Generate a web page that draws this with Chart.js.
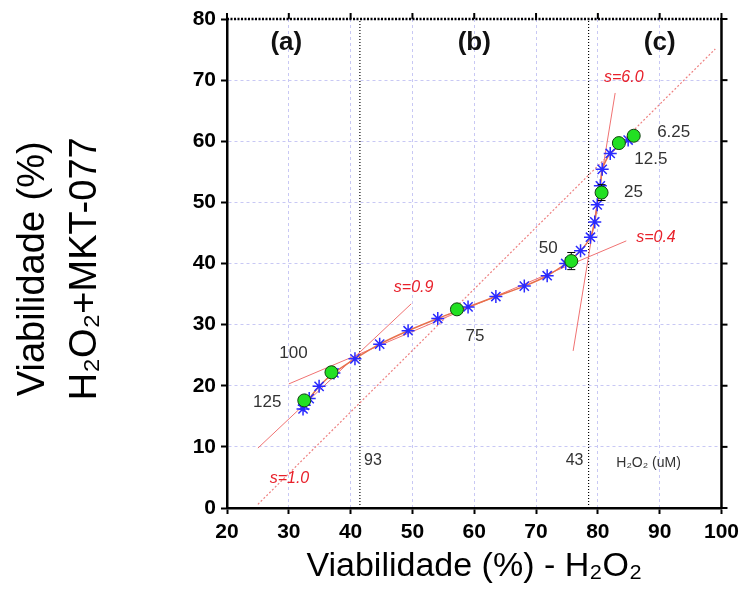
<!DOCTYPE html>
<html>
<head>
<meta charset="utf-8">
<script src="https://cdn.jsdelivr.net/npm/chart.js@4.4.0/dist/chart.umd.min.js"></script>
<style>
  html, body { margin: 0; padding: 0; background: #fff; }
</style>
</head>
<body>
<canvas id="myChart" width="745" height="609"></canvas>
<script>
const ctx = document.getElementById('myChart');
const FONT = "'Liberation Sans', Arial, sans-serif";

// viabilidade H2O2 (x) vs H2O2 + MKT-077 (y)
const starX = [32.3, 32.5, 33.3, 34.9, 37.3, 40.7, 44.7, 49.3, 54.1, 59.0, 63.5, 68.1, 71.8, 74.8, 77.2, 78.8, 79.5, 79.9, 80.4, 80.7, 82.0, 84.9];
const starY = [16.2, 16.8, 17.9, 19.9, 22.1, 24.4, 26.8, 29.0, 31.0, 32.9, 34.6, 36.3, 38.0, 40.0, 42.1, 44.3, 46.8, 49.6, 52.7, 55.4, 58.0, 60.2];

// medidas (uM de H2O2)
const doseLabels = ['125', '100', '75', '50', '25', '12.5', '6.25'];
const meanX = [32.5, 36.9, 57.2, 75.7, 80.6, 83.4, 85.8];
const meanY = [17.6, 22.2, 32.5, 40.4, 51.6, 59.7, 60.9];
const errY = [0.3, 0.3, 0.7, 1.4, 1.3, 0.3, 0.3];

// retas de inclinacao
const slopeLabels = ['s=1.0', 's=0.9', 's=0.4', 's=6.0'];
const slopeX = [[25, 99], [25, 49.8], [30, 84.6], [76, 82.8]];
const slopeY = [[0.6, 75.1], [9.8, 33.4], [20.3, 43.7], [25.7, 67.9]];

// limites entre regioes
const cutoffX = [41.5, 78.5];
const cutoffLabels = ['93', '43'];
const regionLabels = ['(a)', '(b)', '(c)'];
const regionX = [29.6, 60, 90];

const xTicks = [20, 30, 40, 50, 60, 70, 80, 90, 100];
const yTicks = [0, 10, 20, 30, 40, 50, 60, 70, 80];

const pts = (xs, ys) => xs.map((x, i) => ({ x: x, y: ys[i] }));

const datasets = [
  {
    data: pts(meanX, meanY),
    showLine: false,
    pointStyle: 'circle',
    pointRadius: 6.5,
    pointBackgroundColor: '#22e022',
    pointBorderColor: '#104010',
    pointBorderWidth: 1
  },
  {
    data: pts(starX, starY),
    showLine: true,
    borderColor: '#e8704c',
    borderWidth: 1.5,
    tension: 0.25,
    pointStyle: 'star',
    pointRadius: 6.5,
    pointBorderColor: '#2a2aff',
    pointBackgroundColor: '#2a2aff',
    pointBorderWidth: 1.5
  }
];

slopeX.forEach((xs, i) => {
  datasets.push({
    data: pts(xs, slopeY[i]),
    showLine: true,
    pointRadius: 0,
    borderColor: i === 0 ? '#ee8080' : '#f07272',
    borderWidth: i === 0 ? 1.2 : 1,
    borderDash: i === 0 ? [2, 2] : []
  });
});

cutoffX.forEach(x => {
  datasets.push({
    data: [{ x: x, y: 0 }, { x: x, y: 80 }],
    showLine: true,
    pointRadius: 0,
    borderColor: '#000',
    borderWidth: 1.2,
    borderDash: [1, 2]
  });
});

// barras de erro por baixo dos circulos verdes
const errorBars = {
  id: 'errorBars',
  afterDatasetDraw(chart, args) {
    if (args.index !== 1) return;
    const c = chart.ctx, xs = chart.scales.x, ys = chart.scales.y;
    c.save();
    c.strokeStyle = '#000';
    c.lineWidth = 1;
    meanX.forEach((x, i) => {
      const px = xs.getPixelForValue(x);
      const top = ys.getPixelForValue(meanY[i] + errY[i]);
      const bot = ys.getPixelForValue(meanY[i] - errY[i]);
      c.beginPath();
      c.moveTo(px, top); c.lineTo(px, bot);
      c.moveTo(px - 4, top); c.lineTo(px + 4, top);
      c.moveTo(px - 4, bot); c.lineTo(px + 4, bot);
      c.stroke();
    });
    c.restore();
  }
};

// moldura superior pontilhada e eixo direito
const frame = {
  id: 'frame',
  afterDraw(chart) {
    const c = chart.ctx, a = chart.chartArea, xs = chart.scales.x, ys = chart.scales.y;
    c.save();
    c.strokeStyle = '#000';
    c.lineWidth = 2.5;
    c.setLineDash([2, 1.5]);
    c.beginPath(); c.moveTo(a.left, a.top); c.lineTo(a.right, a.top); c.stroke();
    c.setLineDash([]);
    c.beginPath(); c.moveTo(a.right, a.top - 1); c.lineTo(a.right, a.bottom + 1); c.stroke();
    c.lineWidth = 2;
    xTicks.forEach(v => {
      const px = xs.getPixelForValue(v);
      c.beginPath(); c.moveTo(px, a.top); c.lineTo(px, a.top - 6); c.stroke();
    });
    yTicks.forEach(v => {
      const py = ys.getPixelForValue(v);
      c.beginPath(); c.moveTo(a.right, py); c.lineTo(a.right + 6, py); c.stroke();
    });
    c.restore();
  }
};

// textos dentro do grafico
const labels = {
  id: 'labels',
  afterDatasetsDraw(chart) {
    const c = chart.ctx, xs = chart.scales.x, ys = chart.scales.y;
    const X = v => xs.getPixelForValue(v), Y = v => ys.getPixelForValue(v);
    c.save();
    c.textAlign = 'center';
    c.textBaseline = 'middle';

    c.font = '17px ' + FONT;
    c.fillStyle = '#333';
    const doseOff = [[-37, 2], [-38, -19], [18, 27], [-23, -13], [32, 0], [32, 16], [40, -3]];
    doseLabels.forEach((t, i) => {
      c.fillText(t, X(meanX[i]) + doseOff[i][0], Y(meanY[i]) + doseOff[i][1]);
    });

    c.font = '16px ' + FONT;
    cutoffLabels.forEach((t, i) => {
      c.fillText(t, X(cutoffX[i]) + (i === 0 ? 13 : -14), Y(7.8));
    });
    c.font = '14px ' + FONT;
    c.fillText('H\u2082O\u2082 (uM)', X(88.2), Y(7.3));

    c.font = 'bold 26px ' + FONT;
    c.fillStyle = '#111';
    regionLabels.forEach((t, i) => c.fillText(t, X(regionX[i]), Y(76.1)));

    c.font = 'italic 16px ' + FONT;
    c.fillStyle = '#e8202a';
    const slopeTextAt = [[30.1, 4.8], [50.2, 36.1], [89.4, 44.2], [84.2, 70.5]];
    slopeLabels.forEach((t, i) => c.fillText(t, X(slopeTextAt[i][0]), Y(slopeTextAt[i][1])));
    c.restore();
  }
};

new Chart(ctx, {
  type: 'scatter',
  data: { datasets: datasets },
  options: {
    responsive: false,
    animation: false,
    layout: { padding: { top: 19, right: 20, left: 0, bottom: 0 } },
    plugins: { legend: { display: false }, tooltip: { enabled: false } },
    elements: { line: { fill: false } },
    scales: {
      x: {
        type: 'linear', min: 20, max: 100,
        afterBuildTicks: s => { s.ticks = xTicks.map(v => ({ value: v })); },
        ticks: { color: '#000', padding: 6, font: { family: FONT, size: 21, weight: 'bold' } },
        grid: { color: '#c8c8f4', lineWidth: 1, tickColor: '#000', tickLength: 6, tickWidth: 2 },
        border: { color: '#000', width: 2.5, dash: [3, 3] },
        title: {
          display: true, text: 'Viabilidade (%) - H\u2082O\u2082', color: '#000',
          font: { family: FONT, size: 34 }, padding: { bottom: 22 }
        },
        afterFit: s => { s.height = 101; }
      },
      y: {
        type: 'linear', min: 0, max: 80,
        afterBuildTicks: s => { s.ticks = yTicks.map(v => ({ value: v })); },
        ticks: { color: '#000', padding: 5, font: { family: FONT, size: 21, weight: 'bold' } },
        grid: { color: '#c8c8f4', lineWidth: 1, tickColor: '#000', tickLength: 6, tickWidth: 2 },
        border: { color: '#000', width: 2.5, dash: [3, 3] },
        title: {
          display: true, text: ['Viabilidade (%)\u00a0', 'H\u2082O\u2082+MKT-077\u00a0'], color: '#000',
          font: { family: FONT, size: 38, lineHeight: 1.37 }, padding: { top: 7 }
        },
        afterFit: s => { s.width = 227; }
      }
    }
  },
  plugins: [errorBars, frame, labels]
});
</script>
</body>
</html>
